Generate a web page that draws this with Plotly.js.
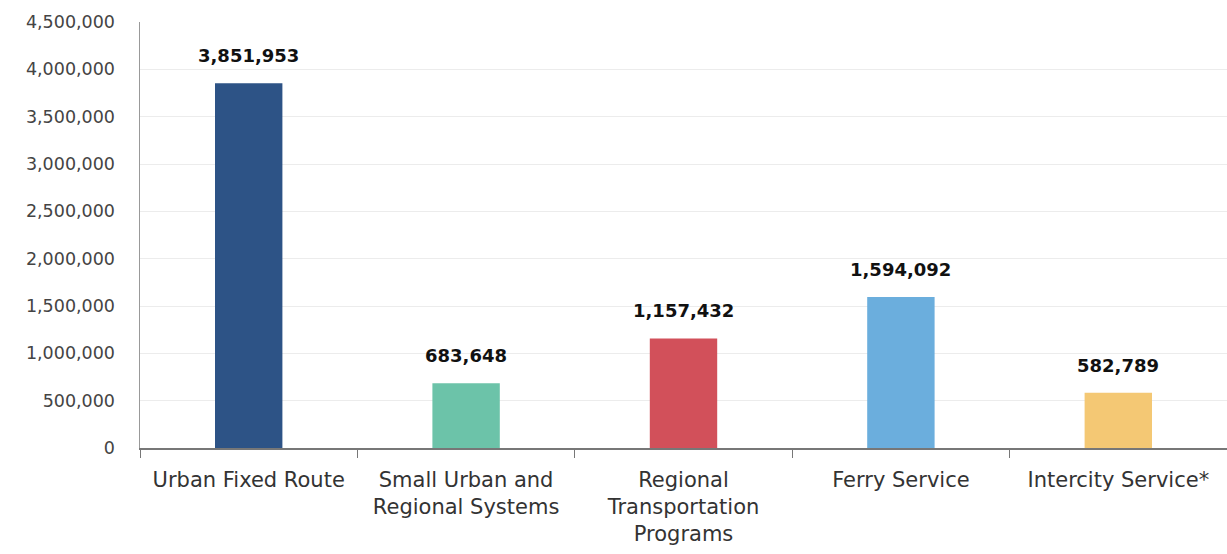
<!DOCTYPE html>
<html>
<head>
<meta charset="utf-8">
<script src="https://cdn.plot.ly/plotly-3.0.1.min.js"></script>
<style>html,body{margin:0;padding:0;background:#fff;}#chart{width:1227px;height:554px;}</style>
</head>
<body>
<div id="chart"></div>
<script>
const categories = ["Urban Fixed Route", "Small Urban and<br>Regional Systems", "Regional<br>Transportation<br>Programs", "Ferry Service", "Intercity Service*"];
const values = [3851953, 683648, 1157432, 1594092, 582789];
const colors = ["#2D5386", "#6CC3A9", "#D2505A", "#6BAEDD", "#F4C874"];
const fontFamily = "'DejaVu Sans', sans-serif";

const trace = {
  type: "bar",
  x: categories,
  y: values,
  marker: {color: colors},
  width: 0.31,
  hoverinfo: "skip"
};

const annotations = categories.map((c, i) => ({
  x: c, y: values[i], xref: "x", yref: "y",
  text: "<b>" + values[i].toLocaleString("en-US") + "</b>",
  showarrow: false, yanchor: "bottom", yshift: 15,
  font: {family: fontFamily, size: 18, color: "#111"}
}));

const layout = {
  width: 1227, height: 554,
  margin: {l: 140, r: 0, t: 22, b: 106},
  paper_bgcolor: "#fff", plot_bgcolor: "#fff",
  showlegend: false,
  bargap: 0.69,
  xaxis: {
    showline: true, linecolor: "#777", linewidth: 1.5,
    ticks: "outside", tickson: "boundaries", ticklen: 8, tickcolor: "#777",
    ticklabelstandoff: 12,
    tickfont: {family: fontFamily, size: 21, color: "#333"},
    showgrid: false
  },
  yaxis: {
    range: [0, 4500000], dtick: 500000, tickformat: ",",
    showline: true, linecolor: "#999", linewidth: 1.5,
    gridcolor: "#ececec", gridwidth: 1,
    zeroline: false,
    ticklabelstandoff: 20,
    tickfont: {family: fontFamily, size: 17.5, color: "#444"}
  },
  annotations: annotations
};

Plotly.newPlot("chart", [trace], layout, {displayModeBar: false, staticPlot: true});
</script>
</body>
</html>
